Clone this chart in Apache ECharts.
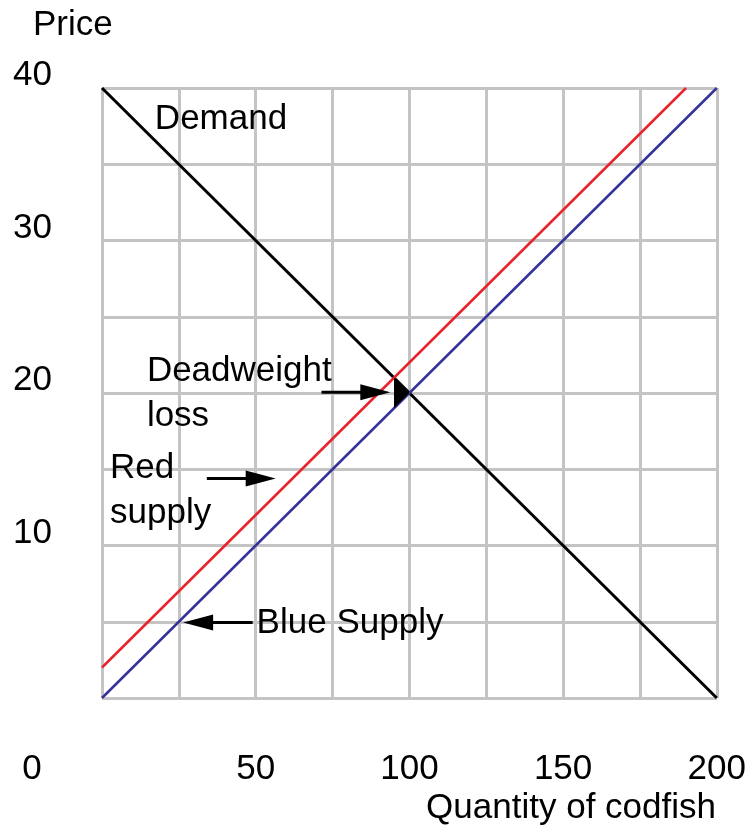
<!DOCTYPE html>
<html>
<head>
<meta charset="utf-8">
<script src="https://cdn.jsdelivr.net/npm/echarts@6/dist/echarts.min.js"></script>
<style>
  html, body { margin: 0; padding: 0; background: #fff; }
  #chart { width: 749px; height: 834px; }
</style>
</head>
<body>
<div id="chart"></div>
<script>
// datos del grafico
const xTickLabels = [0, 50, 100, 150, 200];
const yTickLabels = [10, 20, 30, 40];
const demandPoints = [[0, 40], [200, 0]];
const blueSupplyPoints = [[0, 0], [200, 40]];
const redSupplyPoints = [[0, 2], [190, 40]];
const dwlTriangle = [[95, 21], [100, 20], [95, 19]];

// flechas: [x cola, y cola, x punta, y punta]
const arrows = [
  [71.4, 20.05, 93.8, 20.05],
  [34.1, 14.4, 56.5, 14.4],
  [49, 4.95, 26.4, 4.95]
];

// textos de las anotaciones
const notes = [
  { name: 'Demand', value: [17.2, 37.95] },
  { name: 'Deadweight\nloss', value: [14.6, 19.95] },
  { name: 'Red\nsupply', value: [2.6, 13.6] },
  { name: 'Blue Supply', value: [50.3, 4.9] }
];

const fuente = "'Liberation Sans', Arial, sans-serif";
const gris = '#c4c4c4';

const chart = echarts.init(document.getElementById('chart'));

chart.setOption({
  animation: false,
  title: [
    {
      text: 'Price',
      left: 33,
      top: 8,
      padding: 0,
      textStyle: { fontSize: 35, fontWeight: 'normal', color: '#000', fontFamily: fuente }
    },
    {
      text: 'Quantity of codfish',
      right: 33,
      top: 791,
      padding: 0,
      textStyle: { fontSize: 35, fontWeight: 'normal', color: '#000', fontFamily: fuente }
    }
  ],
  grid: { left: 102, right: 31, top: 88, bottom: 136 },
  xAxis: {
    type: 'value',
    min: 0,
    max: 200,
    interval: 25,
    axisLine: { show: false },
    axisTick: { show: false },
    splitLine: { show: true, lineStyle: { color: gris, width: 3 } },
    axisLabel: {
      margin: 54,
      fontSize: 35,
      color: '#000',
      fontFamily: fuente,
      formatter: v => {
        if (v === 0) return '{z|0}';
        return xTickLabels.includes(v) ? String(v) : '';
      },
      rich: {
        z: { fontSize: 35, color: '#000', fontFamily: fuente, padding: [0, 140, 0, 0] }
      }
    }
  },
  yAxis: {
    type: 'value',
    min: 0,
    max: 40,
    interval: 5,
    axisLine: { show: false },
    axisTick: { show: false },
    splitLine: { show: true, lineStyle: { color: gris, width: 3 } },
    axisLabel: {
      margin: 50,
      fontSize: 35,
      lineHeight: 25,
      color: '#000',
      fontFamily: fuente,
      verticalAlign: 'bottom',
      formatter: v => (yTickLabels.includes(v) ? String(v) : '')
    }
  },
  series: [
    {
      name: 'Demand',
      type: 'line',
      data: demandPoints,
      showSymbol: false,
      lineStyle: { color: '#000', width: 3 }
    },
    {
      name: 'Blue Supply',
      type: 'line',
      data: blueSupplyPoints,
      showSymbol: false,
      lineStyle: { color: '#353399', width: 2.5 }
    },
    {
      name: 'Red supply',
      type: 'line',
      data: redSupplyPoints,
      showSymbol: false,
      lineStyle: { color: '#e8232b', width: 2.5 }
    },
    {
      // triangulo de perdida de eficiencia
      type: 'custom',
      data: [0],
      renderItem: (params, api) => ({
        type: 'polygon',
        shape: { points: dwlTriangle.map(p => api.coord(p)) },
        style: { fill: '#000' }
      }),
      z: 5
    },
    {
      // flechas con punta triangular
      type: 'custom',
      data: arrows,
      encode: { x: [0, 2], y: [1, 3] },
      renderItem: (params, api) => {
        const a = api.coord([api.value(0), api.value(1)]);
        const b = api.coord([api.value(2), api.value(3)]);
        const dx = b[0] - a[0], dy = b[1] - a[1];
        const len = Math.sqrt(dx * dx + dy * dy);
        const ux = dx / len, uy = dy / len;
        const largo = 30, ancho = 8;
        const base = [b[0] - ux * largo, b[1] - uy * largo];
        return {
          type: 'group',
          children: [
            {
              type: 'line',
              shape: { x1: a[0], y1: a[1], x2: base[0] + ux * 2, y2: base[1] + uy * 2 },
              style: { stroke: '#000', lineWidth: 3 }
            },
            {
              type: 'polygon',
              shape: {
                points: [
                  b,
                  [base[0] - uy * ancho, base[1] + ux * ancho],
                  [base[0] + uy * ancho, base[1] - ux * ancho]
                ]
              },
              style: { fill: '#000' }
            }
          ]
        };
      },
      z: 6
    },
    {
      type: 'scatter',
      symbolSize: 0,
      data: notes,
      itemStyle: { opacity: 1 },
      label: {
        show: true,
        position: 'inside',
        align: 'left',
        verticalAlign: 'middle',
        formatter: '{b}',
        fontSize: 35,
        lineHeight: 45,
        color: '#000',
        opacity: 1,
        fontFamily: fuente
      },
      z: 7
    }
  ]
});
</script>
</body>
</html>
